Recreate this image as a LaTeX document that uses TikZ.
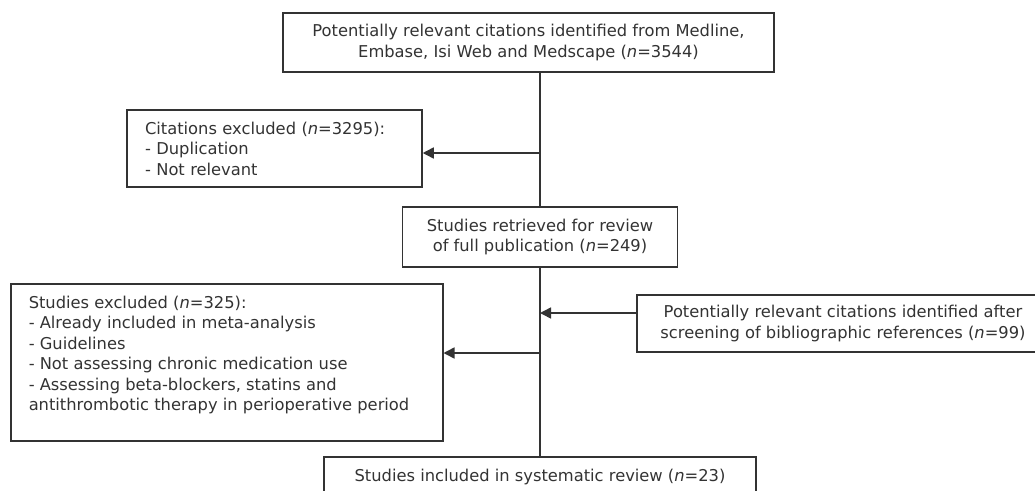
\documentclass[tikz,border=0pt]{standalone}
\usepackage{fontspec}
\setmainfont{DejaVu Sans}
\usetikzlibrary{arrows.meta}
\definecolor{ink}{HTML}{333333}
\begin{document}
\begin{tikzpicture}[x=1pt,y=-1pt,
  box/.style={draw=ink, line width=1.5pt, inner xsep=18pt, inner ysep=0pt, text=ink,
    font=\fontsize{16.3}{20.5}\selectfont},
  cbox/.style={box, align=center},
  lbox/.style={box, align=left},
  conn/.style={draw=ink, line width=1.5pt},
  arr/.style={conn, -{Triangle[length=11pt,width=11pt]}}]
\useasboundingbox (0,0) rectangle (1035,490);
\clip (0,0) rectangle (1035,490);
\fill[white] (0,0) rectangle (1035,490);

\node[cbox, minimum width=491pt, minimum height=59pt] (top) at (528.5,42.5)
  {Potentially relevant citations identified from Medline,\\Embase, Isi Web and Medscape (\textit{n}=3544)};
\node[lbox, text width=259pt, minimum height=77pt] (cit) at (274.5,148.5)
  {Citations excluded (\textit{n}=3295):\\- Duplication\\- Not relevant};
\node[cbox, minimum width=275pt, minimum height=60pt] (ret) at (540,237)
  {Studies retrieved for review\\of full publication (\textit{n}=249)};
\node[box, inner xsep=0pt, anchor=north west] (excl) at (10,283)
  {\parbox[c][157pt][t]{432pt}{\vspace*{12pt}\leftskip=18pt
   Studies excluded (\textit{n}=325):\\- Already included in meta-analysis\\- Guidelines\\- Not assessing chronic medication use\\- Assessing beta-blockers, statins and\\antithrombotic therapy in perioperative period}};
\node[cbox, minimum width=412pt, minimum height=57pt] (rgt) at (843,323.5)
  {Potentially relevant citations identified after\\screening of bibliographic references (\textit{n}=99)};
\node[cbox, minimum width=432pt, minimum height=40pt] (bot) at (540,477)
  {Studies included in systematic review (\textit{n}=23)};

\coordinate (j1) at (540,153);
\coordinate (j2) at (540,313);
\coordinate (j3) at (540,353);
\draw[conn] (ret.north |- top.south) -- (ret.north);
\draw[conn] (ret.south) -- (bot.north);
\draw[arr] (j1) -- (j1 -| cit.east);
\draw[arr] (j2 -| rgt.west) -- (j2);
\draw[arr] (j3) -- (j3 -| excl.east);
\end{tikzpicture}
\end{document}
